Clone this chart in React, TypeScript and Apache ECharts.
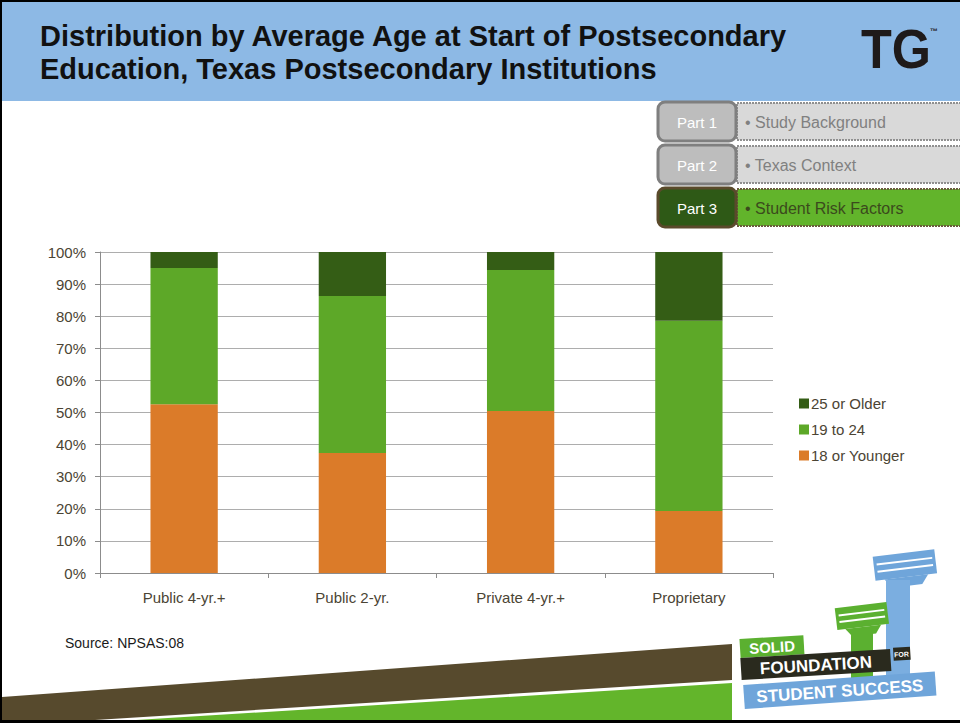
import React, { useEffect, useRef } from "react";
import * as echarts from "echarts";

const categories = ["Public 4-yr.+", "Public 2-yr.", "Private 4-yr.+", "Proprietary"];
const young = [52.6, 37.4, 50.5, 19.3];
const mid = [42.4, 48.9, 43.9, 59.3];
const older = [5.0, 13.7, 5.6, 21.4];
const yTicks = [0, 10, 20, 30, 40, 50, 60, 70, 80, 90, 100];
const seriesNames = ["18 or Younger", "19 to 24", "25 or Older"];
const parts = [
  { label: "Part 1", text: "• Study Background", active: false },
  { label: "Part 2", text: "• Texas Context", active: false },
  { label: "Part 3", text: "• Student Risk Factors", active: true },
];

const FONT = "Liberation Sans, Arial, sans-serif";
const TXT = "#4B4434";

function partGraphics() {
  const out: any[] = [];
  parts.forEach((p, i) => {
    const y = 102 + i * 43;
    out.push({
      type: "rect",
      shape: { x: 737, y: y + 1, width: 230, height: 37 },
      style: {
        fill: p.active ? "#62B42B" : "#D9D9D9",
        stroke: p.active ? "#6A5B3C" : "#8F8F8F",
        lineWidth: 2,
        lineDash: [2, 1],
      },
    });
    out.push({
      type: "rect",
      shape: { x: 658, y: y, width: 78, height: 39, r: 7 },
      style: {
        fill: p.active ? "#2E5916" : "#BDBDBD",
        stroke: p.active ? "#5A4A2B" : "#7F7F7F",
        lineWidth: 3,
      },
    });
    out.push({
      type: "text",
      x: 697,
      y: y + 20,
      style: {
        text: p.label,
        fill: "#FFFFFF",
        font: `15px ${FONT}`,
        align: "center",
        verticalAlign: "middle",
      },
    });
    out.push({
      type: "text",
      x: 745,
      y: y + 20,
      style: {
        text: p.text,
        fill: p.active ? "#3B4A1D" : "#808080",
        font: `16px ${FONT}`,
        align: "left",
        verticalAlign: "middle",
      },
    });
  });
  return out;
}

function logoGraphics() {
  const stripes = (x: number, y: number, w: number, h: number, fill: string) => [
    { type: "rect", shape: { x, y, width: w, height: h }, style: { fill } },
    { type: "rect", shape: { x: x + 3, y: y + h * 0.3, width: w - 6, height: 2 }, style: { fill: "#FFFFFF" } },
    { type: "rect", shape: { x: x + 3, y: y + h * 0.6, width: w - 6, height: 2 }, style: { fill: "#FFFFFF" } },
  ];
  return [
    // blue column
    {
      type: "group",
      x: 905,
      y: 566,
      rotation: 0.12,
      children: [
        ...stripes(-31, -13, 62, 24, "#6FA5DA"),
        { type: "polygon", shape: { points: [[-22, 11], [22, 11], [15, 20], [-15, 20]] }, style: { fill: "#6FA5DA" } },
      ],
    },
    { type: "rect", shape: { x: 886, y: 580, width: 24, height: 106 }, style: { fill: "#7BAEE0" } },
    // green column
    {
      type: "group",
      x: 862,
      y: 617,
      rotation: 0.12,
      children: [
        ...stripes(-26, -12, 52, 22, "#5BB030"),
        { type: "polygon", shape: { points: [[-18, 10], [18, 10], [12, 18], [-12, 18]] }, style: { fill: "#5BB030" } },
      ],
    },
    { type: "rect", shape: { x: 851, y: 630, width: 22, height: 51 }, style: { fill: "#5BB030" } },
    // text boxes
    {
      type: "group",
      x: 740,
      y: 648,
      rotation: 0.06,
      children: [
        { type: "rect", shape: { x: 0, y: -9, width: 64, height: 19 }, style: { fill: "#5BB030" } },
        {
          type: "text",
          x: 32,
          y: 1,
          style: { text: "SOLID", fill: "#FFFFFF", font: `bold 15px ${FONT}`, align: "center", verticalAlign: "middle" },
        },
      ],
    },
    {
      type: "group",
      x: 741,
      y: 669,
      rotation: 0.06,
      children: [
        { type: "rect", shape: { x: 0, y: -11, width: 150, height: 22 }, style: { fill: "#2A2A1E" } },
        {
          type: "text",
          x: 75,
          y: 1,
          style: { text: "FOUNDATION", fill: "#FFFFFF", font: `bold 17px ${FONT}`, align: "center", verticalAlign: "middle" },
        },
        { type: "rect", shape: { x: 153, y: -12, width: 17, height: 13 }, style: { fill: "#2A2A1E" } },
        {
          type: "text",
          x: 161,
          y: -5,
          style: { text: "FOR", fill: "#FFFFFF", font: `bold 7px ${FONT}`, align: "center", verticalAlign: "middle" },
        },
      ],
    },
    {
      type: "group",
      x: 744,
      y: 697,
      rotation: 0.07,
      children: [
        { type: "rect", shape: { x: 0, y: -12, width: 192, height: 24 }, style: { fill: "#6FA5DA" } },
        {
          type: "text",
          x: 96,
          y: 1,
          style: { text: "STUDENT SUCCESS", fill: "#FFFFFF", font: `bold 17px ${FONT}`, align: "center", verticalAlign: "middle" },
        },
      ],
    },
  ];
}

export default function App() {
  const ref = useRef<HTMLDivElement>(null);
  useEffect(() => {
    document.body.style.margin = "0";
    if (!ref.current) return;
    const chart = echarts.init(ref.current, undefined, { renderer: "svg" });
    const colors = ["#DB7B29", "#5DA828", "#345D15"];
    const data = [young, mid, older];
    chart.setOption({
      animation: false,
      backgroundColor: "#FFFFFF",
      textStyle: { fontFamily: FONT },
      grid: { left: 100, right: 187, top: 252, bottom: 150, containLabel: false },
      legend: {
        orient: "vertical",
        left: 794,
        top: 391,
        itemWidth: 10,
        itemHeight: 10,
        itemGap: 11,
        icon: "rect",
        data: ["25 or Older", "19 to 24", "18 or Younger"],
        textStyle: { color: TXT, fontSize: 15, fontFamily: FONT, padding: [0, 0, 0, -3] },
      },
      xAxis: {
        type: "category",
        data: categories,
        axisLine: { lineStyle: { color: "#8C8C8C", width: 1 } },
        axisTick: { show: true, length: 5, lineStyle: { color: "#8C8C8C" } },
        axisLabel: { color: TXT, fontSize: 15, margin: 17, fontFamily: FONT },
      },
      yAxis: {
        type: "value",
        min: 0,
        max: 100,
        interval: 10,
        axisLine: { show: true, lineStyle: { color: "#8C8C8C", width: 1 } },
        axisTick: { show: true, length: 5, lineStyle: { color: "#8C8C8C" } },
        axisLabel: {
          color: TXT,
          fontSize: 15,
          margin: 14,
          fontFamily: FONT,
          formatter: (v: number) => (yTicks.includes(v) ? `${v}%` : ""),
        },
        splitLine: { lineStyle: { color: "#ADADAD", width: 1 } },
      },
      series: seriesNames.map((n, i) => ({
        name: n,
        type: "bar",
        stack: "total",
        barWidth: "40%",
        data: data[i],
        itemStyle: { color: colors[i] },
      })),
      graphic: [
        // header
        { type: "rect", z: -1, shape: { x: 0, y: 0, width: 960, height: 101 }, style: { fill: "#8DB9E5" } },
        {
          type: "text",
          x: 40,
          y: 19,
          style: {
            text: "Distribution by Average Age at Start of Postsecondary\nEducation, Texas Postsecondary Institutions",
            fill: "#111111",
            font: `bold 29px ${FONT}`,
            lineHeight: 33,
          },
        },
        {
          type: "text",
          x: 861,
          y: 21,
          scaleX: 0.9,
          style: { text: "TG", fill: "#1E1A1A", font: `bold 56px ${FONT}`, letterSpacing: -3 },
        },
        {
          type: "text",
          x: 930,
          y: 27,
          style: { text: "™", fill: "#1E1A1A", font: `bold 8px ${FONT}` },
        },
        ...partGraphics(),
        {
          type: "text",
          x: 65,
          y: 643,
          style: { text: "Source: NPSAS:08", fill: "#1A1A1A", font: `14px ${FONT}`, verticalAlign: "middle" },
        },
        // bottom bands
        {
          type: "polygon",
          shape: { points: [[2, 697], [732, 644], [732, 680], [95, 720], [2, 720]] },
          style: { fill: "#574A2D" },
        },
        {
          type: "polygon",
          shape: { points: [[120, 721], [732, 683], [732, 721]] },
          style: { fill: "#63B52B" },
        },
        ...logoGraphics(),
        // frame
        { type: "rect", shape: { x: 0, y: 0, width: 960, height: 2 }, style: { fill: "#000" } },
        { type: "rect", shape: { x: 0, y: 0, width: 2, height: 723 }, style: { fill: "#000" } },
        { type: "rect", shape: { x: 0, y: 720, width: 960, height: 3 }, style: { fill: "#000" } },
      ],
    });
    return () => chart.dispose();
  }, []);
  return <div ref={ref} style={{ position: "absolute", left: 0, top: 0, width: 960, height: 723 }} />;
}
